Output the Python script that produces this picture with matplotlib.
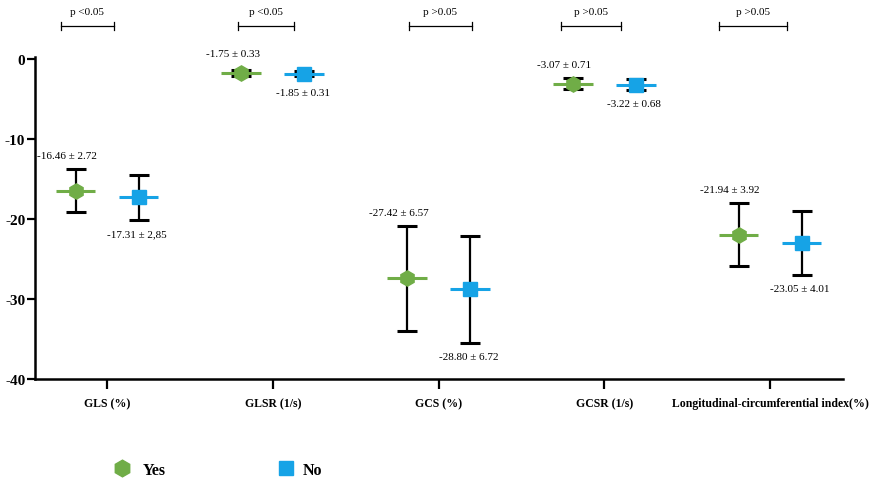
import matplotlib
matplotlib.use("Agg")
import matplotlib.pyplot as plt
from matplotlib.lines import Line2D

categories = ["GLS (%)", "GLSR (1/s)", "GCS (%)", "GCSR (1/s)",
              "Longitudinal-circumferential index(%)"]
yes_mean = [-16.46, -1.75, -27.42, -3.07, -21.94]
yes_sd = [2.72, 0.33, 6.57, 0.71, 3.92]
no_mean = [-17.31, -1.85, -28.80, -3.22, -23.05]
no_sd = [2.85, 0.31, 6.72, 0.68, 4.01]
yes_text = ["-16.46 ± 2.72", "-1.75 ± 0.33", "-27.42 ± 6.57", "-3.07 ± 0.71", "-21.94 ± 3.92"]
no_text = ["-17.31 ± 2,85", "-1.85 ± 0.31", "-28.80 ± 6.72", "-3.22 ± 0.68", "-23.05 ± 4.01"]
p_labels = ["p <0.05", "p <0.05", "p >0.05", "p >0.05", "p >0.05"]
yticks = [0, -10, -20, -30, -40]

GREEN = "#70AD47"
BLUE = "#16A3E6"
SERIF = ["Liberation Serif", "DejaVu Serif"]

fig = plt.figure(figsize=(8.76, 4.81), dpi=100)
ax = fig.add_axes([35 / 876, 1 - 380 / 481, (843 - 35) / 876, (380 - 58) / 481])

off = 0.19
bracket_span = [(-0.28, 0.04), (-0.21, 0.13), (-0.18, 0.20), (-0.26, 0.10), (-0.31, 0.10)]

for i in range(len(categories)):
    xy, xn = i - off, i + off
    # error bars
    ax.errorbar(xy, yes_mean[i], yerr=yes_sd[i], fmt="none", ecolor="black",
                elinewidth=1.6, capsize=7.2, capthick=2.2, zorder=2)
    ax.errorbar(xn, no_mean[i], yerr=no_sd[i], fmt="none", ecolor="black",
                elinewidth=1.6, capsize=7.2, capthick=2.2, zorder=2)
    # mean lines
    ax.errorbar(xy, yes_mean[i], xerr=0.12, fmt="none", ecolor=GREEN,
                elinewidth=2.2, capsize=0, zorder=3)
    ax.errorbar(xn, no_mean[i], xerr=0.12, fmt="none", ecolor=BLUE,
                elinewidth=2.2, capsize=0, zorder=3)
    # markers
    ax.plot(xy, yes_mean[i], marker="h", color=GREEN, markersize=11, ls="none", zorder=4)
    ax.plot(xn, no_mean[i], marker="s", color=BLUE, markersize=10, ls="none", zorder=4)
    # labels
    ax.annotate(yes_text[i], xy=(xy, yes_mean[i] + max(yes_sd[i], 0.75)),
                xytext=(-6, 9.5), textcoords="offset points", ha="center", va="center",
                fontsize=8, family=SERIF, annotation_clip=False)
    ax.annotate(no_text[i], xy=(xn, no_mean[i] - max(no_sd[i], 0.75)),
                xytext=(-1, -9.5), textcoords="offset points", ha="center", va="center",
                fontsize=8, family=SERIF, annotation_clip=False)
    # significance brackets
    l, r = i + bracket_span[i][0], i + bracket_span[i][1]
    ax.plot([l, r], [4.1, 4.1], color="black", lw=0.9, clip_on=False)
    ax.plot([l, l], [3.6, 4.6], color="black", lw=0.9, clip_on=False)
    ax.plot([r, r], [3.6, 4.6], color="black", lw=0.9, clip_on=False)
    ax.text((l + r) / 2, 5.9, p_labels[i], ha="center", va="center",
            fontsize=8, family=SERIF, clip_on=False)

ax.set_xlim(-0.435, 4.44)
ax.set_ylim(-40, 0.25)
ax.set_yticks(yticks)
ax.set_yticklabels([str(t) for t in yticks], fontsize=11, fontweight="bold", family=SERIF)
ax.set_xticks(range(len(categories)))
ax.set_xticklabels(categories, fontsize=8.5, fontweight="bold", family=SERIF)
ax.tick_params(axis="y", length=6, width=1.6, pad=1)
ax.tick_params(axis="x", length=7, width=1.6, pad=6)
for s in ["top", "right"]:
    ax.spines[s].set_visible(False)
for s in ["left", "bottom"]:
    ax.spines[s].set_linewidth(1.8)

h_yes = Line2D([], [], marker="h", color=GREEN, ls="none", markersize=12)
h_no = Line2D([], [], marker="s", color=BLUE, ls="none", markersize=10)
fig.legend(handles=[h_yes], labels=["Yes"], loc="center left",
           bbox_to_anchor=(100 / 876, 1 - 471 / 481), frameon=False,
           prop={"family": SERIF, "weight": "bold", "size": 11.5},
           handlelength=1.0, handletextpad=0.8)
fig.legend(handles=[h_no], labels=["No"], loc="center left",
           bbox_to_anchor=(264 / 876, 1 - 471 / 481), frameon=False,
           prop={"family": SERIF, "weight": "bold", "size": 11.5},
           handlelength=1.0, handletextpad=0.55)

fig.savefig("out.png", dpi=100)
